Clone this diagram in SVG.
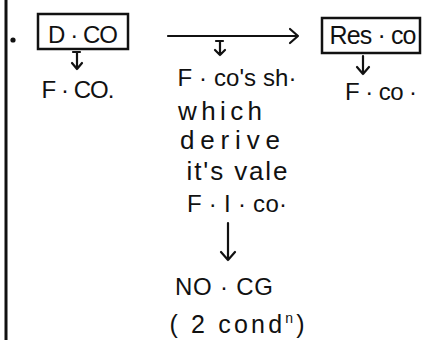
<svg xmlns="http://www.w3.org/2000/svg" width="422" height="340" viewBox="0 0 422 340">
<style>
  .t{font-family:"Liberation Sans","DejaVu Sans",sans-serif;font-size:24px;fill:#111;text-anchor:middle}
  .box{fill:none;stroke:#111;stroke-width:2.5}
  .ln{fill:none;stroke:#111;stroke-width:2.2;stroke-linecap:round;stroke-linejoin:round}
</style>
<rect width="422" height="340" fill="#fff"/>
<line x1="6" y1="0" x2="6" y2="340" stroke="#111" stroke-width="3"/>
<circle cx="13" cy="40" r="2.6" fill="#111"/>
<g id="dco">
  <rect class="box" x="38" y="14" width="90" height="35"/>
  <text class="t" x="83" y="43" textLength="70" lengthAdjust="spacing">D · CO</text>
</g>
<g id="fco-left">
  <text class="t" x="78" y="98" textLength="73" lengthAdjust="spacing">F · CO.</text>
</g>
<g id="resco">
  <rect class="box" x="322" y="18" width="98" height="35"/>
  <text class="t" x="373" y="44" textLength="87" lengthAdjust="spacing" style="font-size:25px">Res · co</text>
</g>
<g id="fco-right">
  <text class="t" x="381" y="100" textLength="72" lengthAdjust="spacing">F · co ·</text>
</g>
<g id="middle">
  <text class="t" x="237" y="86" textLength="119" lengthAdjust="spacing">F · co's sh·</text>
  <text class="t" x="220" y="120" textLength="84" lengthAdjust="spacing" style="font-size:26px">which</text>
  <text class="t" x="230" y="149" textLength="100" lengthAdjust="spacing" style="font-size:26px">derive</text>
  <text class="t" x="237" y="180" textLength="101" lengthAdjust="spacing" style="font-size:26px">it's vale</text>
  <text class="t" x="237" y="212" textLength="100" lengthAdjust="spacing">F · I · co·</text>
</g>
<g id="noco">
  <text class="t" x="224" y="295" textLength="98" lengthAdjust="spacing">NO · CG</text>
  <text class="t" x="237" y="333" textLength="135" lengthAdjust="spacing" style="font-size:25px">( 2 cond<tspan style="font-size:14px" dy="-10">n</tspan><tspan dy="10">)</tspan></text>
</g>
<g id="connectors">
  <path class="ln" d="M73 52 H80 M77 52 V69 M72 63 L77 69 L82 63"/>
  <path class="ln" d="M168 36 H298 M290 29 L298 36 L290 43"/>
  <path class="ln" d="M216 41 H223 M220 41 V55 M215 50 L220 55 L225 50"/>
  <path class="ln" d="M363 56 V74 M357 67 L363 74 L369 67"/>
  <path class="ln" d="M228 223 V260 M221 252 L228 260 L235 252"/>
</g>
</svg>
